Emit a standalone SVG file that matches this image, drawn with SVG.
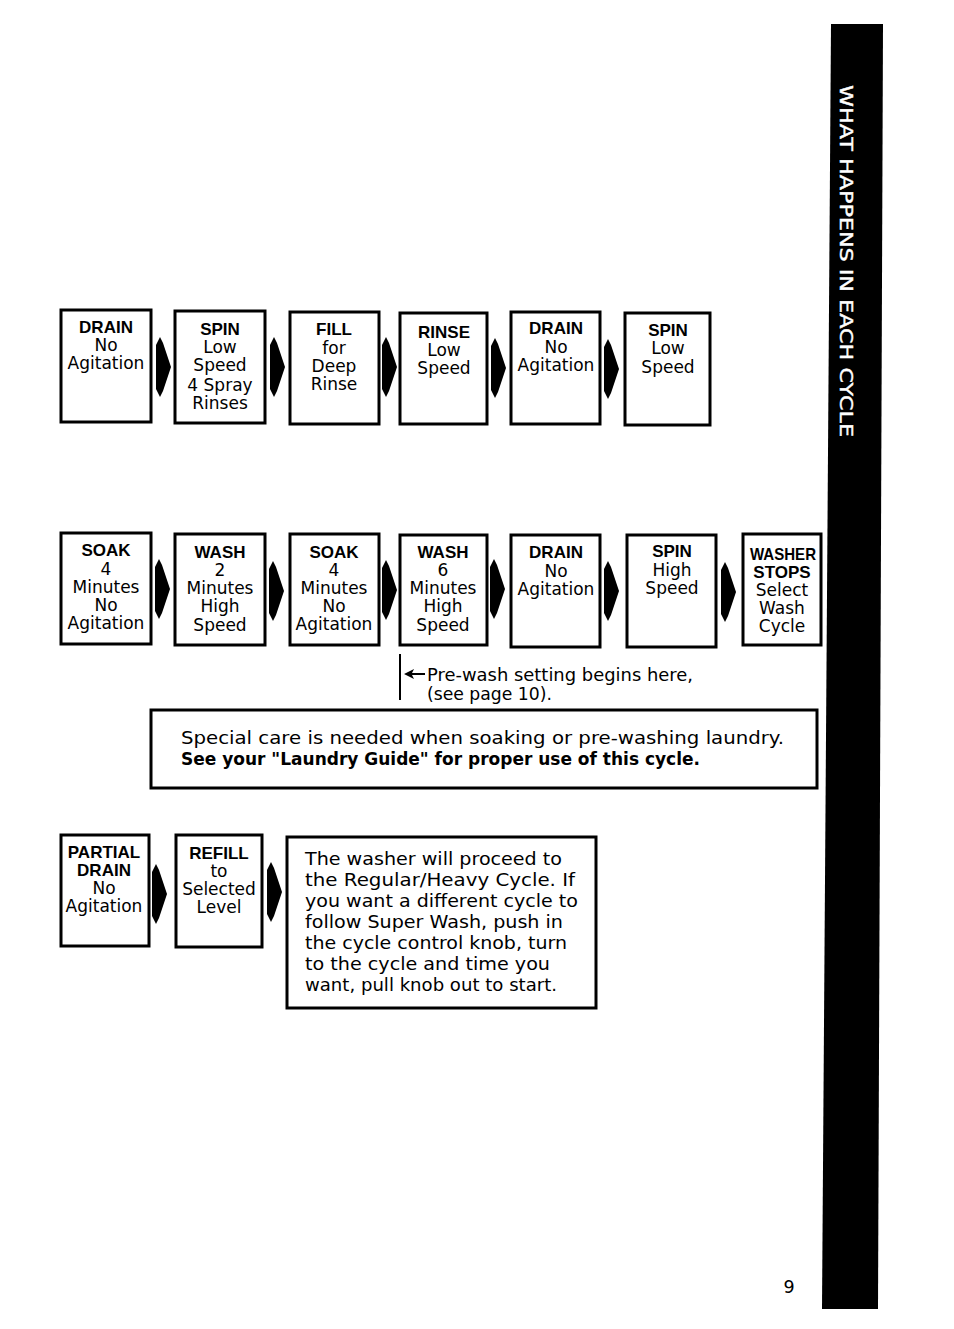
<svg xmlns="http://www.w3.org/2000/svg" width="954" height="1329" viewBox="0 0 954 1329">
<style>
.box{fill:#fff;stroke:#000;stroke-width:3}
.t{font-family:"DejaVu Sans",sans-serif;font-size:17px;fill:#000;text-anchor:middle}
.b{font-family:"Liberation Sans",Arial,sans-serif;font-size:17px;font-weight:bold;fill:#000;text-anchor:middle}
.p{font-family:"DejaVu Sans",sans-serif;font-size:17.5px;fill:#000}
.pb{font-family:"DejaVu Sans",sans-serif;font-size:17.5px;font-weight:bold;fill:#000}
.side{font-family:"DejaVu Sans",sans-serif;font-size:18px;fill:#fff;stroke:#fff;stroke-width:0.4}
</style>
<defs>
<path id="arr" d="M0,8 L4,0 L7,6 L15,30 L7,54 L4,60 L0,52 Z" fill="#000"/>
</defs>
<rect width="954" height="1329" fill="#fff"/>
<g id="sidebar">
<polygon points="831,24 883,24 878,1309 822,1309" fill="#000"/>
<text class="side" transform="translate(840,85) rotate(90)" textLength="352" lengthAdjust="spacingAndGlyphs">WHAT HAPPENS IN EACH CYCLE</text>
</g>
<g id="connectors">
<use href="#arr" x="156" y="337"/>
<use href="#arr" x="270" y="337"/>
<use href="#arr" x="382" y="337"/>
<use href="#arr" x="491" y="338"/>
<use href="#arr" x="604" y="339"/>
<use href="#arr" x="155" y="559"/>
<use href="#arr" x="269" y="561"/>
<use href="#arr" x="382" y="560"/>
<use href="#arr" x="490" y="559"/>
<use href="#arr" x="604" y="561"/>
<use href="#arr" x="721" y="562"/>
<use href="#arr" x="152" y="864"/>
<use href="#arr" x="267" y="862"/>
<line x1="400" y1="654" x2="400" y2="700" stroke="#000" stroke-width="2"/>
<polygon points="404,674 414,669 412,673 425,673 425,675 412,675 414,679" fill="#000"/>
</g>
<g id="r1n1"><rect class="box" x="61" y="310" width="90" height="112"/>
<text class="b" x="106" y="333">DRAIN</text><text class="t" x="106" y="351">No</text><text class="t" x="106" y="369">Agitation</text></g>
<g id="r1n2"><rect class="box" x="175" y="311" width="90" height="112"/>
<text class="b" x="220" y="335">SPIN</text><text class="t" x="220" y="353">Low</text><text class="t" x="220" y="371">Speed</text><text class="t" x="220" y="391">4 Spray</text><text class="t" x="220" y="409">Rinses</text></g>
<g id="r1n3"><rect class="box" x="290" y="312" width="89" height="112"/>
<text class="b" x="334" y="335">FILL</text><text class="t" x="334" y="354">for</text><text class="t" x="334" y="372">Deep</text><text class="t" x="334" y="390">Rinse</text></g>
<g id="r1n4"><rect class="box" x="400" y="313" width="87" height="111"/>
<text class="b" x="444" y="338">RINSE</text><text class="t" x="444" y="356">Low</text><text class="t" x="444" y="374">Speed</text></g>
<g id="r1n5"><rect class="box" x="511" y="312" width="89" height="112"/>
<text class="b" x="556" y="334">DRAIN</text><text class="t" x="556" y="353">No</text><text class="t" x="556" y="371">Agitation</text></g>
<g id="r1n6"><rect class="box" x="625" y="313" width="85" height="112"/>
<text class="b" x="668" y="336">SPIN</text><text class="t" x="668" y="354">Low</text><text class="t" x="668" y="373">Speed</text></g>
<g id="r2n1"><rect class="box" x="61" y="533" width="90" height="111"/>
<text class="b" x="106" y="556">SOAK</text><text class="t" x="106" y="575">4</text><text class="t" x="106" y="593">Minutes</text><text class="t" x="106" y="611">No</text><text class="t" x="106" y="629">Agitation</text></g>
<g id="r2n2"><rect class="box" x="175" y="534" width="90" height="111"/>
<text class="b" x="220" y="558">WASH</text><text class="t" x="220" y="576">2</text><text class="t" x="220" y="594">Minutes</text><text class="t" x="220" y="612">High</text><text class="t" x="220" y="631">Speed</text></g>
<g id="r2n3"><rect class="box" x="290" y="534" width="89" height="111"/>
<text class="b" x="334" y="558">SOAK</text><text class="t" x="334" y="576">4</text><text class="t" x="334" y="594">Minutes</text><text class="t" x="334" y="612">No</text><text class="t" x="334" y="630">Agitation</text></g>
<g id="r2n4"><rect class="box" x="400" y="535" width="87" height="110"/>
<text class="b" x="443" y="558">WASH</text><text class="t" x="443" y="576">6</text><text class="t" x="443" y="594">Minutes</text><text class="t" x="443" y="612">High</text><text class="t" x="443" y="631">Speed</text></g>
<g id="r2n5"><rect class="box" x="511" y="535" width="89" height="112"/>
<text class="b" x="556" y="558">DRAIN</text><text class="t" x="556" y="577">No</text><text class="t" x="556" y="595">Agitation</text></g>
<g id="r2n6"><rect class="box" x="627" y="535" width="89" height="112"/>
<text class="b" x="672" y="557">SPIN</text><text class="t" x="672" y="576">High</text><text class="t" x="672" y="594">Speed</text></g>
<g id="r2n7"><rect class="box" x="743" y="534" width="78" height="111"/>
<text class="b" x="783" y="560" textLength="66" lengthAdjust="spacingAndGlyphs">WASHER</text><text class="b" x="782" y="578">STOPS</text><text class="t" x="782" y="596">Select</text><text class="t" x="782" y="614">Wash</text><text class="t" x="782" y="632">Cycle</text></g>
<g id="prewash-note">
<text class="p" x="427" y="681" textLength="266" lengthAdjust="spacingAndGlyphs">Pre-wash setting begins here,</text>
<text class="p" x="427" y="700" textLength="125" lengthAdjust="spacingAndGlyphs">(see page 10).</text>
</g>
<g id="notice"><rect class="box" x="151" y="710" width="666" height="78"/>
<text class="p" x="181" y="744" textLength="603" lengthAdjust="spacingAndGlyphs">Special care is needed when soaking or pre-washing laundry.</text>
<text class="pb" x="181" y="765" textLength="519" lengthAdjust="spacingAndGlyphs">See your "Laundry Guide" for proper use of this cycle.</text>
</g>
<g id="r3n1"><rect class="box" x="61" y="835" width="88" height="111"/>
<text class="b" x="104" y="858">PARTIAL</text><text class="b" x="104" y="876">DRAIN</text><text class="t" x="104" y="894">No</text><text class="t" x="104" y="912">Agitation</text></g>
<g id="r3n2"><rect class="box" x="176" y="835" width="86" height="112"/>
<text class="b" x="219" y="859">REFILL</text><text class="t" x="219" y="877">to</text><text class="t" x="219" y="895">Selected</text><text class="t" x="219" y="913">Level</text></g>
<g id="r3n3"><rect class="box" x="287" y="837" width="309" height="171"/>
<text class="p" x="305" y="865" textLength="257" lengthAdjust="spacingAndGlyphs">The washer will proceed to</text>
<text class="p" x="305" y="886" textLength="270" lengthAdjust="spacingAndGlyphs">the Regular/Heavy Cycle. If</text>
<text class="p" x="305" y="907" textLength="273" lengthAdjust="spacingAndGlyphs">you want a different cycle to</text>
<text class="p" x="305" y="928" textLength="258" lengthAdjust="spacingAndGlyphs">follow Super Wash, push in</text>
<text class="p" x="305" y="949" textLength="262" lengthAdjust="spacingAndGlyphs">the cycle control knob, turn</text>
<text class="p" x="305" y="970" textLength="245" lengthAdjust="spacingAndGlyphs">to the cycle and time you</text>
<text class="p" x="305" y="991" textLength="252" lengthAdjust="spacingAndGlyphs">want, pull knob out to start.</text>
</g>
<g id="page-number"><text class="p" x="789" y="1293" text-anchor="middle">9</text></g>
</svg>
